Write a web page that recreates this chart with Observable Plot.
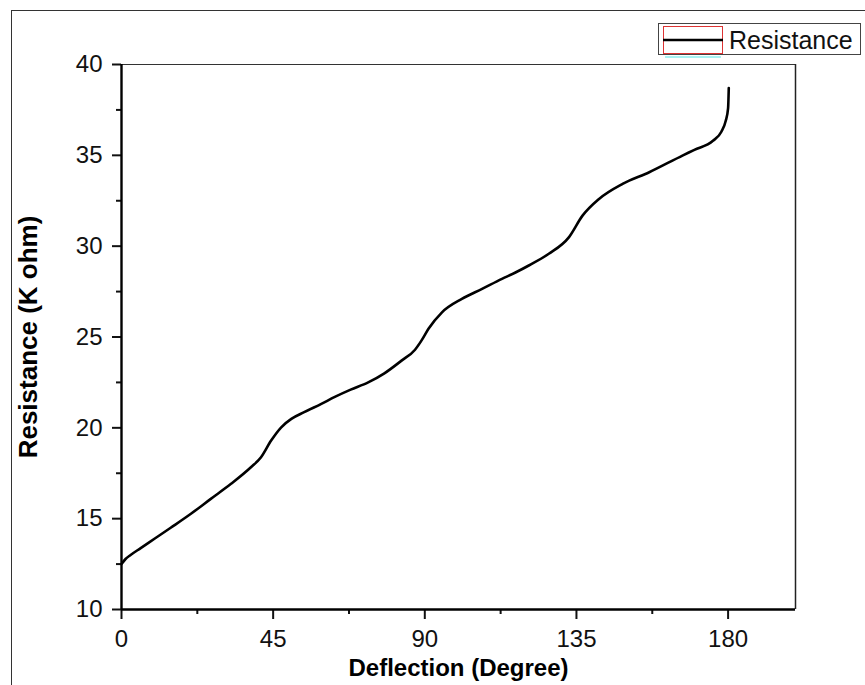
<!DOCTYPE html>
<html>
<head>
<meta charset="utf-8">
<script src="https://cdn.jsdelivr.net/npm/d3@7"></script>
<script src="https://cdn.jsdelivr.net/npm/@observablehq/plot@0.6"></script>
<style>
  html, body { margin: 0; padding: 0; background: #fff; }
  #wrap { position: relative; width: 865px; height: 685px; overflow: hidden; font-family: "Liberation Sans", Arial, sans-serif; }
  #outer { position: absolute; left: 11px; top: 10px; width: 900px; height: 800px; border-left: 1.5px solid #333; border-top: 1.5px solid #333; }
  #legend { position: absolute; left: 658px; top: 23px; width: 201px; height: 30px; border: 1.5px solid #444; background: #fff; }
  #legend svg { position: absolute; left: 0; top: 0; }
  #legend span { position: absolute; left: 70px; top: 0px; font-size: 25px; line-height: 32px; color: #111; }
  #chart { position: absolute; left: 0; top: 0; }
</style>
</head>
<body>
<div id="wrap">
  <div id="outer"></div>
  <div id="chart"></div>
  <div id="legend">
    <svg width="70" height="34">
      <rect x="4.5" y="2.5" width="59" height="27" fill="none" stroke="#d33" stroke-width="1"/>
      <line x1="6" y1="33" x2="62" y2="33" stroke="#8ee" stroke-width="1.5"/>
      <line x1="4" y1="16" x2="64" y2="16" stroke="#000" stroke-width="2.5"/>
    </svg>
    <span>Resistance</span>
  </div>
</div>
<script>
const seriesName = "Resistance";
const deflection = [0, 1.2, 2.7, 5.7, 10, 14.6, 20.6, 26.5, 32.5, 38.4, 41.4, 44.4, 47.4, 50.4, 54.2, 59.3, 63.3, 68, 73.2, 78, 83.1, 87.1, 89, 91.1, 95.1, 101, 107, 112.9, 116.9, 121, 126.8, 132.8, 136.8, 141.7, 148.7, 156.6, 166.6, 170, 175.5, 178, 179.3, 180, 180.2];
const resistance = [12.5, 12.78, 13.0, 13.38, 13.92, 14.5, 15.27, 16.09, 16.92, 17.83, 18.38, 19.3, 20.03, 20.49, 20.86, 21.32, 21.7, 22.1, 22.5, 23.0, 23.7, 24.3, 24.8, 25.45, 26.36, 27.1, 27.65, 28.2, 28.55, 28.95, 29.58, 30.5, 31.68, 32.6, 33.43, 34.07, 35.0, 35.3, 35.8, 36.3, 36.9, 37.6, 38.7];
const xMajorTicks = [0, 45, 90, 135, 180];
const xMinorTicks = [22.5, 67.5, 112.5, 157.5];
const yMajorTicks = [10, 15, 20, 25, 30, 35, 40];
const yMinorTicks = [12.5, 17.5, 22.5, 27.5, 32.5, 37.5];
const xLabel = "Deflection (Degree)";
const yLabel = "Resistance (K ohm)";

const data = deflection.map((d, i) => ({x: d, y: resistance[i]}));

const chart = Plot.plot({
  width: 865,
  height: 685,
  marginLeft: 121,
  marginRight: 70,
  marginTop: 64,
  marginBottom: 76,
  style: {background: "transparent", fontFamily: "'Liberation Sans', Arial, sans-serif", color: "#111", overflow: "visible"},
  x: {domain: [0, 200]},
  y: {domain: [10, 40]},
  marks: [
    Plot.ruleY([40], {stroke: "#333", strokeWidth: 1.2}),
    Plot.ruleX([200], {stroke: "#222", strokeWidth: 1.5}),
    Plot.line(data, {x: "x", y: "y", stroke: "#000", strokeWidth: 2.6, curve: "monotone-x"}),
    Plot.axisX({ticks: xMajorTicks, tickSize: 10, tickPadding: 10, fontSize: 24, label: null, tickFormat: d => String(d), strokeWidth: 2}),
    Plot.axisX({ticks: xMinorTicks, tickSize: 5, text: null, label: null, strokeWidth: 2}),
    Plot.axisY({ticks: yMajorTicks, tickSize: 9, tickPadding: 10, fontSize: 24, label: null, tickFormat: d => String(d), strokeWidth: 2}),
    Plot.axisY({ticks: yMinorTicks, tickSize: 5, text: null, label: null, strokeWidth: 2}),
    Plot.ruleX([0], {stroke: "#000", strokeWidth: 2.4}),
    Plot.ruleY([10], {stroke: "#000", strokeWidth: 2.4}),
    Plot.text([xLabel], {frameAnchor: "bottom", dy: 66, fontSize: 24, fontWeight: "bold", fill: "#000"}),
    Plot.text([yLabel], {frameAnchor: "left", textAnchor: "middle", dx: -93, rotate: -90, fontSize: 26, fontWeight: "bold", fill: "#000"})
  ]
});
document.getElementById("chart").appendChild(chart);
</script>
</body>
</html>
